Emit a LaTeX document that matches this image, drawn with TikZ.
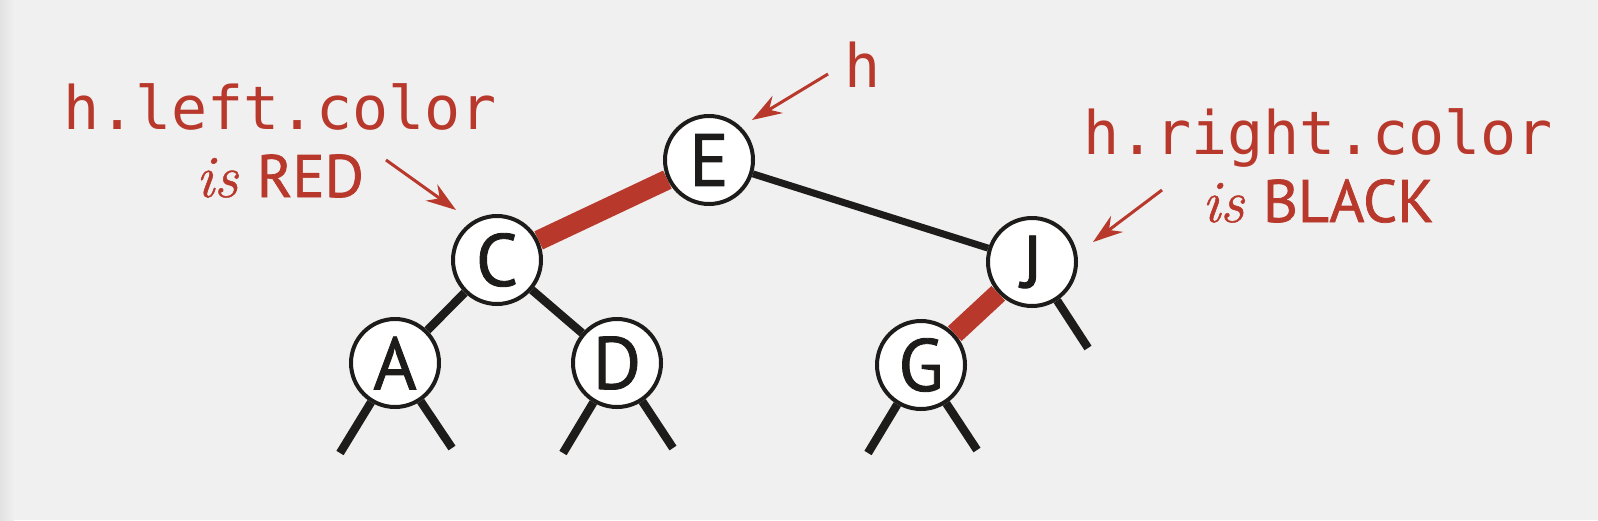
\documentclass[tikz,border=0pt]{standalone}
\usepackage{fontspec}
\setsansfont{PT Sans}[FakeBold=1.2]
\setmonofont{DejaVu Sans Mono}
\newfontfamily\isfont{Latin Modern Roman}[FakeBold=0.8]
\usetikzlibrary{arrows.meta}

\definecolor{linkred}{HTML}{B8382C}
\definecolor{inkblack}{HTML}{1E1C1A}
\definecolor{pagegray}{HTML}{F0F0F0}
\definecolor{edgegray}{HTML}{E2E2E2}

\begin{document}
\begin{tikzpicture}[x=0.5pt, y=-0.5pt,
    key/.style={shape=circle, draw=inkblack, fill=white, line width=2pt,
        minimum size=44pt, inner sep=0pt, text=inkblack,
        font=\sffamily\fontsize{37}{37}\selectfont},
    redlink/.style={draw=linkred, line width=10pt},
    blacklink/.style={draw=inkblack, line width=4.2pt},
    note/.style={text=linkred, inner sep=0pt, font=\fontsize{30}{34}\selectfont},
    pointer/.style={draw=linkred, line width=1.5pt,
        -{Stealth[length=15pt, width=10pt, inset=5pt]}}]
    % page
    \useasboundingbox (0,0) rectangle (1598,520);
    \fill[pagegray] (0,0) rectangle (1598,520);
    \shade[left color=edgegray, right color=pagegray] (0,0) rectangle (14,520);

    % keys
    \node[key] at (709,160) (E) {E};
    \node[key] at (497,260) (C) {C};
    \node[key] at (1032,262) (J) {J};
    \node[key] at (395,363) (A) {A};
    \node[key] at (617,363) (D) {D};
    \node[key] at (921,365) (G) {G};

    % null links
    \coordinate (A1) at (340,453);
    \coordinate (A2) at (452,448);
    \coordinate (D1) at (563,453);
    \coordinate (D2) at (673,448);
    \coordinate (G1) at (868,453);
    \coordinate (G2) at (977,450);
    \coordinate (J2) at (1088,348);

    \path [redlink] (E) edge (C);
    \path [blacklink, line width=3.5pt] (E) edge (J);
    \path [blacklink] (C) edge (A);
    \path [blacklink] (C) edge (D);
    \path [redlink] (J) edge (G);
    \path [blacklink] (A) edge (A1) (A) edge (A2);
    \path [blacklink] (D) edge (D1) (D) edge (D2);
    \path [blacklink] (G) edge (G1) (G) edge (G2);
    \path [blacklink] (J) edge (J2);

    % labels
    \node[note, anchor=base] at (863,87) (hroot) {\ttfamily h};
    \node[note, anchor=base] at (280,129) (hleft) {\ttfamily h.left.color};
    \node[note, anchor=base] at ([yshift=-34pt]hleft.base) (isred) {{\isfont\itshape is} \textsf{RED}};
    \node[note, anchor=base] at (1318,154) (hright) {\ttfamily h.right.color};
    \node[note, anchor=base] at ([yshift=-34pt]hright.base) (isblack) {{\isfont\itshape is} \textsf{BLACK}};

    % pointers
    \coordinate (roottail) at (828,74);
    \coordinate (roottip) at (752,120);
    \coordinate (lefttail) at (386,160);
    \coordinate (lefttip) at (456,210);
    \coordinate (righttail) at (1162,190);
    \coordinate (righttip) at (1093,242);
    \draw [pointer] (roottail) -- (roottip);
    \draw [pointer] (lefttail) -- (lefttip);
    \draw [pointer] (righttail) -- (righttip);
\end{tikzpicture}
\end{document}
